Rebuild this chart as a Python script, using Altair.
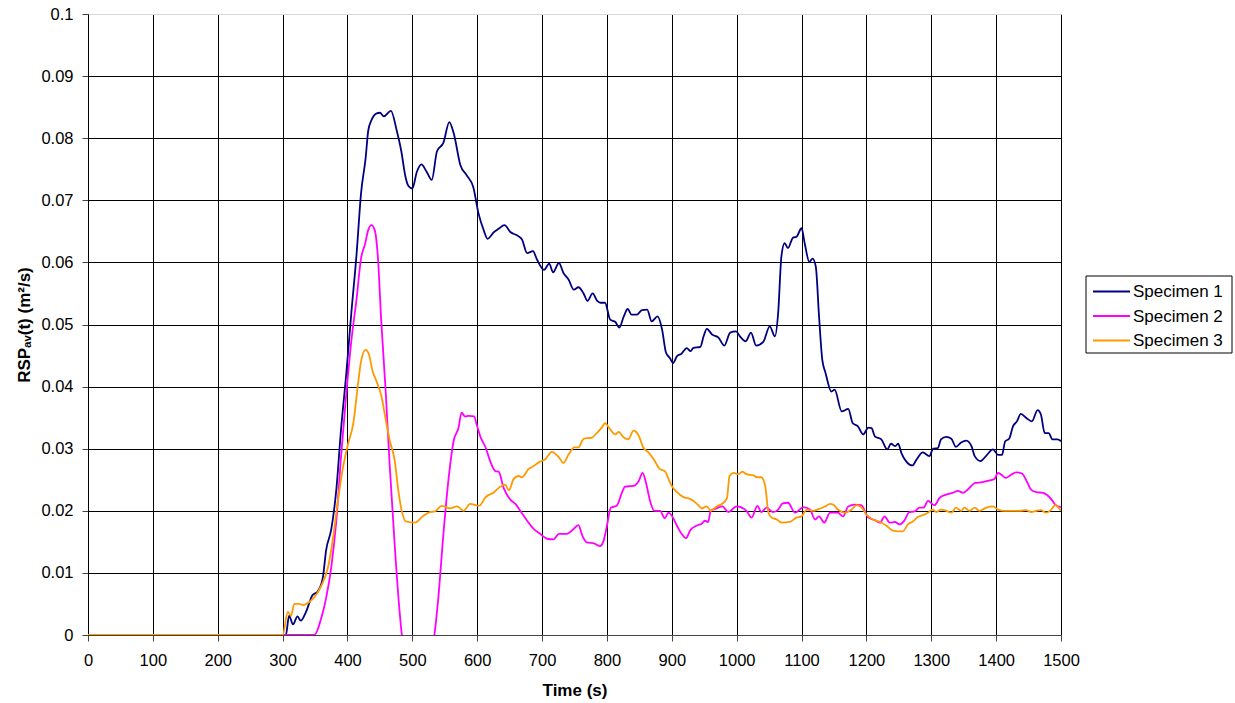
import altair as alt
import pandas as pd

# ---- data ----
s1_time = [0, 300, 305, 310, 316, 323, 328, 336, 346, 354, 362, 367, 375, 383, 390, 398, 406, 414, 421, 428, 432, 437, 445, 450, 456, 467, 476, 483, 489, 494, 500, 507, 514, 522, 530, 538, 548, 557, 564, 574, 584, 594, 602, 610, 616, 626, 633, 642, 651, 664, 669, 677, 686, 692, 703, 711, 717, 726, 733, 741, 749, 756, 764, 770, 778, 785, 790, 797, 805, 813, 819, 826, 832, 838, 846, 854, 862, 869, 878, 885, 891, 897, 902, 908, 915, 923, 929, 933, 944, 949, 954, 962, 972, 981, 990, 999, 1005, 1014, 1022, 1030, 1041, 1051, 1059, 1064, 1069, 1074, 1079, 1087, 1092, 1100, 1105, 1112, 1117, 1122, 1127, 1132, 1137, 1146, 1151, 1162, 1172, 1179, 1187, 1195, 1203, 1208, 1213, 1223, 1232, 1238, 1244, 1249, 1254, 1261, 1271, 1277, 1287, 1297, 1303, 1310, 1315, 1323, 1331, 1338, 1346, 1354, 1362, 1367, 1376, 1385, 1395, 1403, 1409, 1414, 1420, 1426, 1432, 1438, 1447, 1455, 1464, 1469, 1475, 1481, 1487, 1495, 1500]
s1_value = [0, 0, 0, 0.0031, 0.0017, 0.003, 0.0023, 0.0037, 0.0064, 0.007, 0.0092, 0.0136, 0.017, 0.0236, 0.033, 0.0419, 0.0519, 0.0613, 0.0712, 0.0768, 0.0812, 0.0829, 0.084, 0.0841, 0.0835, 0.0844, 0.0812, 0.0779, 0.074, 0.0723, 0.0719, 0.0746, 0.0758, 0.0746, 0.0733, 0.0779, 0.0793, 0.0826, 0.0807, 0.0757, 0.074, 0.0721, 0.0679, 0.0652, 0.0638, 0.0649, 0.0654, 0.066, 0.0649, 0.0642, 0.0637, 0.0615, 0.0618, 0.0605, 0.0588, 0.0598, 0.0584, 0.0599, 0.0583, 0.0572, 0.0556, 0.056, 0.055, 0.0538, 0.055, 0.0538, 0.0535, 0.0535, 0.0508, 0.0504, 0.0495, 0.0513, 0.0525, 0.0516, 0.0516, 0.0523, 0.0524, 0.0505, 0.0513, 0.0492, 0.0455, 0.0446, 0.0438, 0.0449, 0.0453, 0.0462, 0.0457, 0.0462, 0.0464, 0.0481, 0.0493, 0.0484, 0.0479, 0.0466, 0.0487, 0.0489, 0.0481, 0.0473, 0.0487, 0.0466, 0.0472, 0.0497, 0.0481, 0.0519, 0.061, 0.0631, 0.0623, 0.064, 0.0641, 0.0655, 0.063, 0.0601, 0.0606, 0.0593, 0.0513, 0.0443, 0.0422, 0.0392, 0.0395, 0.036, 0.0364, 0.0341, 0.0336, 0.0323, 0.0334, 0.0333, 0.032, 0.0315, 0.0299, 0.0308, 0.0304, 0.0308, 0.0293, 0.028, 0.0273, 0.0282, 0.0294, 0.0288, 0.03, 0.0301, 0.0315, 0.0319, 0.0316, 0.0303, 0.031, 0.0313, 0.0304, 0.0288, 0.028, 0.0289, 0.0299, 0.029, 0.029, 0.0312, 0.0316, 0.0336, 0.0344, 0.0356, 0.0349, 0.0344, 0.0362, 0.0355, 0.0325, 0.0325, 0.0315, 0.0315, 0.0312]

s2_time = [0, 349, 359, 367, 375, 383, 390, 398, 406, 414, 421, 427, 432, 437, 442, 447, 452, 459, 465, 473, 480, 486, 495, 510, 525, 534, 540, 548, 556, 564, 571, 576, 581, 587, 595, 600, 605, 613, 620, 628, 633, 641, 651, 659, 667, 677, 687, 697, 708, 718, 726, 738, 749, 756, 762, 769, 779, 789, 795, 800, 806, 815, 823, 828, 841, 849, 855, 860, 867, 873, 882, 889, 895, 900, 908, 915, 922, 928, 938, 946, 951, 956, 960, 969, 978, 987, 1000, 1015, 1023, 1032, 1038, 1046, 1056, 1064, 1071, 1079, 1090, 1103, 1113, 1121, 1127, 1135, 1144, 1156, 1164, 1172, 1182, 1192, 1203, 1213, 1221, 1228, 1236, 1244, 1251, 1259, 1266, 1274, 1282, 1288, 1295, 1305, 1313, 1323, 1333, 1341, 1349, 1356, 1368, 1379, 1390, 1397, 1403, 1408, 1415, 1423, 1431, 1440, 1446, 1454, 1462, 1472, 1479, 1487, 1492, 1500]
s2_value = [0, 0, 0.0025, 0.0059, 0.0109, 0.0186, 0.0286, 0.0386, 0.0474, 0.0541, 0.0607, 0.0629, 0.0652, 0.066, 0.0652, 0.0607, 0.0507, 0.0391, 0.0275, 0.0142, 0.0042, -0.002, -0.007, -0.01, -0.005, 0, 0.0059, 0.0164, 0.0253, 0.0314, 0.0333, 0.0358, 0.0352, 0.0353, 0.0352, 0.0336, 0.0319, 0.0302, 0.028, 0.0264, 0.0263, 0.0236, 0.0218, 0.0211, 0.0199, 0.0184, 0.0171, 0.0163, 0.0155, 0.0154, 0.0163, 0.0163, 0.0171, 0.0177, 0.016, 0.0149, 0.0148, 0.0143, 0.0152, 0.0176, 0.0205, 0.0208, 0.0229, 0.0239, 0.024, 0.0248, 0.0261, 0.0246, 0.0214, 0.02, 0.02, 0.0188, 0.0197, 0.0192, 0.0176, 0.0163, 0.0156, 0.0168, 0.0176, 0.0179, 0.0184, 0.0182, 0.02, 0.0204, 0.0207, 0.0198, 0.0207, 0.02, 0.0189, 0.0208, 0.0198, 0.0205, 0.0198, 0.0202, 0.0212, 0.0213, 0.0197, 0.0206, 0.0202, 0.0186, 0.0191, 0.0181, 0.0197, 0.0197, 0.0191, 0.0207, 0.021, 0.0209, 0.0189, 0.0185, 0.0181, 0.0191, 0.0181, 0.0182, 0.0178, 0.0185, 0.0198, 0.0199, 0.0205, 0.0205, 0.0216, 0.0209, 0.0221, 0.0226, 0.0229, 0.0232, 0.0229, 0.0234, 0.0245, 0.0246, 0.0249, 0.0251, 0.0261, 0.0258, 0.0253, 0.0258, 0.0262, 0.026, 0.025, 0.0234, 0.023, 0.0229, 0.0225, 0.0216, 0.0209, 0.0206]

s3_time = [0, 300, 308, 313, 318, 326, 331, 341, 349, 359, 370, 378, 385, 393, 401, 409, 416, 421, 428, 433, 439, 445, 452, 459, 465, 473, 478, 483, 490, 504, 517, 527, 535, 545, 558, 569, 579, 589, 603, 613, 626, 636, 643, 649, 656, 664, 669, 679, 687, 695, 705, 715, 726, 733, 741, 750, 756, 764, 777, 785, 792, 797, 805, 813, 818, 826, 833, 841, 849, 856, 864, 872, 881, 890, 895, 900, 908, 918, 926, 933, 941, 946, 954, 960, 969, 977, 985, 989, 995, 1003, 1009, 1015, 1026, 1031, 1038, 1044, 1049, 1054, 1062, 1069, 1082, 1092, 1100, 1108, 1118, 1127, 1136, 1144, 1149, 1156, 1167, 1177, 1185, 1192, 1200, 1210, 1221, 1231, 1241, 1249, 1256, 1264, 1272, 1279, 1287, 1295, 1302, 1308, 1315, 1323, 1331, 1338, 1346, 1351, 1359, 1367, 1374, 1385, 1395, 1403, 1413, 1426, 1436, 1446, 1454, 1462, 1469, 1477, 1485, 1491, 1500]
s3_value = [0, 0, 0.0037, 0.0031, 0.005, 0.005, 0.0048, 0.0053, 0.0061, 0.0078, 0.0109, 0.0158, 0.0214, 0.0269, 0.0308, 0.0341, 0.0402, 0.0441, 0.0459, 0.0452, 0.0424, 0.0408, 0.0386, 0.0347, 0.0314, 0.028, 0.0236, 0.0203, 0.0183, 0.0181, 0.0192, 0.0198, 0.0199, 0.0208, 0.0204, 0.0207, 0.02, 0.0211, 0.0208, 0.0222, 0.023, 0.0239, 0.0242, 0.0233, 0.0251, 0.0256, 0.0254, 0.0267, 0.0272, 0.0278, 0.0283, 0.0295, 0.0286, 0.0277, 0.0291, 0.0302, 0.0302, 0.0316, 0.0318, 0.0326, 0.0334, 0.0341, 0.0331, 0.0323, 0.0327, 0.0318, 0.0315, 0.0329, 0.0321, 0.0302, 0.0294, 0.0283, 0.0268, 0.0263, 0.0251, 0.024, 0.023, 0.0222, 0.022, 0.0216, 0.0209, 0.0204, 0.0207, 0.02, 0.0207, 0.0211, 0.022, 0.0256, 0.0261, 0.0259, 0.0263, 0.0259, 0.0257, 0.0254, 0.0254, 0.024, 0.0197, 0.0189, 0.0186, 0.0181, 0.0182, 0.0189, 0.0191, 0.0202, 0.02, 0.0203, 0.0207, 0.0211, 0.021, 0.0202, 0.0197, 0.0202, 0.0209, 0.0206, 0.0194, 0.0186, 0.0182, 0.0176, 0.0168, 0.0167, 0.0167, 0.0178, 0.0183, 0.019, 0.0193, 0.0197, 0.0202, 0.0198, 0.0202, 0.02, 0.0197, 0.0205, 0.02, 0.0205, 0.02, 0.0205, 0.02, 0.0205, 0.0207, 0.0202, 0.02, 0.02, 0.02, 0.0201, 0.0198, 0.02, 0.0201, 0.0197, 0.0202, 0.0209, 0.02]

series_names = ["Specimen 1", "Specimen 2", "Specimen 3"]
series_colors = ["#000080", "#FF00FF", "#FF9900"]
x_ticks = list(range(0, 1501, 100))
y_ticks = [i / 100 for i in range(0, 11)]

frames = []
for k, (name, ts, vs) in enumerate(zip(series_names, [s1_time, s2_time, s3_time], [s1_value, s2_value, s3_value])):
    frames.append(pd.DataFrame({"Time": ts, "RSP": vs, "Series": name, "order": k}))
df = pd.concat(frames, ignore_index=True)

FONT = "Liberation Sans, Arial, DejaVu Sans"

lines = alt.Chart(df).mark_line(
    strokeWidth=1.8, interpolate="monotone", clip=True
).encode(
    x=alt.X("Time:Q", scale=alt.Scale(domain=[0, 1500], nice=False),
            axis=alt.Axis(values=x_ticks, title="Time (s)", format="d",
                          grid=True, gridColor="black", gridWidth=1,
                          domainColor="#444", tickColor="#444", tickSize=6,
                          labelFlush=False, labelPadding=11, titlePadding=14)),
    y=alt.Y("RSP:Q", scale=alt.Scale(domain=[0, 0.1], nice=False),
            axis=alt.Axis(values=y_ticks, title="RSPₐᵥ(t) (m²/s)", format=".2~f",
                          grid=True,
                          gridColor={"condition": {"test": "datum.value >= 0.0999", "value": "#d9d9d9"}, "value": "black"},
                          gridWidth=1,
                          domainColor="black", tickColor="#444", tickSize=6,
                          labelFlush=False, labelPadding=9, titlePadding=7)),
    color=alt.Color("Series:N",
                    scale=alt.Scale(domain=series_names, range=series_colors),
                    legend=None),
    order=alt.Order("order:Q"),
    detail="Series:N",
)

# ---- legend box drawn beside the plot (pixel positions relative to plot origin) ----
one = pd.DataFrame({"k": [0]})
LX0, LX1, LY0, LY1 = 998, 1144, 262, 339
box = alt.Chart(one).mark_rect(fill="white", stroke="black", strokeWidth=1).encode(
    x=alt.value(LX0), x2=alt.value(LX1), y=alt.value(LY0), y2=alt.value(LY1)
)
legend_layers = [box]
for i, (name, col) in enumerate(zip(series_names, series_colors)):
    ry = LY0 + 15.5 + i * 24.5
    legend_layers.append(
        alt.Chart(one).mark_rule(color=col, strokeWidth=2).encode(
            x=alt.value(LX0 + 7), x2=alt.value(LX0 + 44), y=alt.value(ry)
        )
    )
    legend_layers.append(
        alt.Chart(one).mark_text(align="left", baseline="middle", font=FONT,
                                 fontSize=17, color="black").encode(
            x=alt.value(LX0 + 47), y=alt.value(ry + 0.5), text=alt.value(name)
        )
    )

chart = alt.layer(lines, *legend_layers).properties(
    width=973, height=621,
    autosize=alt.AutoSizeParams(type="none"),
    padding={"left": 88, "top": 14, "right": 174, "bottom": 68},
).configure_view(
    stroke=None
).configure_axis(
    labelFont=FONT, titleFont=FONT, labelFontSize=16.5, titleFontSize=17,
    labelColor="black", titleColor="black", titleFontWeight="bold"
)

chart.save("out.html", embed_options={"renderer": "svg", "actions": False})
